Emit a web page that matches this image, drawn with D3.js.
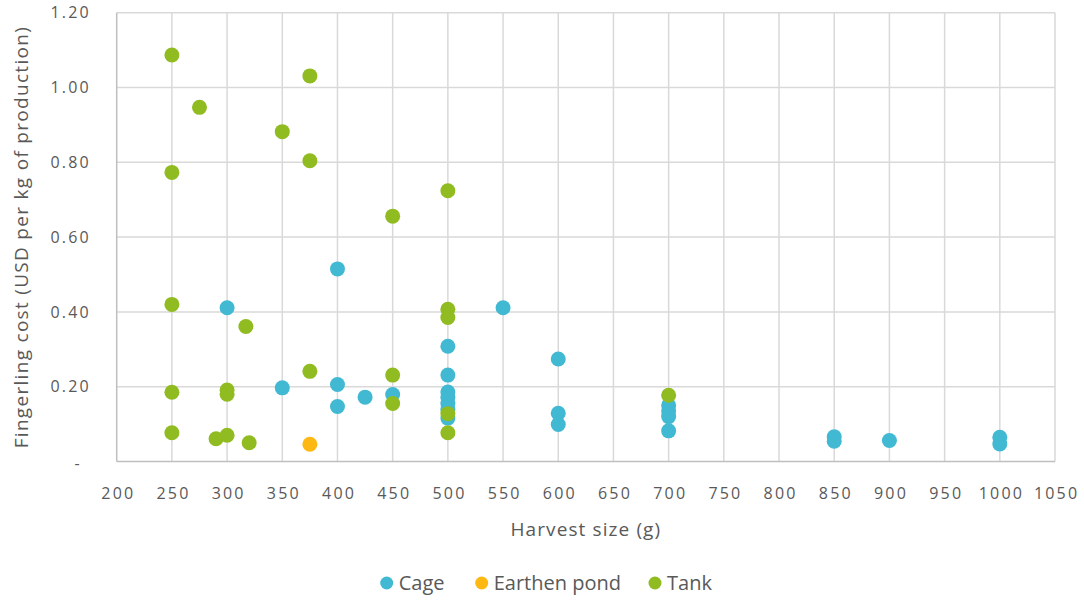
<!DOCTYPE html>
<html>
<head>
<meta charset="utf-8">
<script src="https://cdn.jsdelivr.net/npm/d3@7"></script>
<style>
  body { margin: 0; background: #fff; }
  svg { display: block; }
  text { font-family: "Open Sans", "Lato", sans-serif; fill: #595959; }
</style>
</head>
<body>
<svg id="chart" width="1084" height="603"></svg>
<script>
// ---- data ----
const seriesNames = ["Cage", "Earthen pond", "Tank"];
const seriesColors = ["#41B9D3", "#FDB813", "#90BC21"];

const cageX = [300, 350, 400, 400, 400, 425, 450, 500, 500, 500, 500, 500, 500, 500, 550, 600, 600, 600, 700, 700, 700, 700, 850, 850, 900, 1000, 1000];
const cageY = [0.411, 0.197, 0.515, 0.206, 0.147, 0.172, 0.179, 0.308, 0.231, 0.186, 0.172, 0.155, 0.140, 0.116, 0.411, 0.274, 0.129, 0.099, 0.150, 0.135, 0.120, 0.082, 0.066, 0.054, 0.056, 0.065, 0.047];

const pondX = [375];
const pondY = [0.046];

const tankX = [250, 250, 250, 250, 250, 275, 290, 300, 300, 300, 317, 320, 350, 375, 375, 375, 450, 450, 450, 500, 500, 500, 500, 500, 700];
const tankY = [1.087, 0.773, 0.420, 0.185, 0.077, 0.947, 0.061, 0.191, 0.180, 0.070, 0.361, 0.050, 0.882, 1.031, 0.804, 0.241, 0.656, 0.231, 0.155, 0.724, 0.407, 0.385, 0.128, 0.077, 0.177];

const xTicks = [200, 250, 300, 350, 400, 450, 500, 550, 600, 650, 700, 750, 800, 850, 900, 950, 1000, 1050];
const yTicks = [0, 0.2, 0.4, 0.6, 0.8, 1.0, 1.2];
const yTickLabels = ["-", "0.20", "0.40", "0.60", "0.80", "1.00", "1.20"];

const xTitle = "Harvest size (g)";
const yTitle = "Fingerling cost (USD per kg of production)";

// ---- layout ----
(function () {
const svg = d3.select("#chart");
const pLeft = 116.7, pRight = 1055, pTop = 12.7, pBottom = 461.5;

const x = d3.scaleLinear().domain([200, 1050]).range([pLeft, pRight]);
const y = d3.scaleLinear().domain([0, 1.2]).range([pBottom, pTop]);

// gridlines
const grid = svg.append("g");
grid.selectAll("line.v").data(xTicks.slice(1)).enter().append("line")
  .attr("x1", d => x(d)).attr("x2", d => x(d))
  .attr("y1", y(1.2)).attr("y2", y(0))
  .attr("stroke", "#d9d9d9").attr("stroke-width", 1.5);
grid.selectAll("line.h").data(yTicks.slice(1)).enter().append("line")
  .attr("x1", x(200)).attr("x2", x(1050))
  .attr("y1", d => y(d)).attr("y2", d => y(d))
  .attr("stroke", "#d9d9d9").attr("stroke-width", 1.5);

// axes lines
svg.append("line").attr("x1", x(200)).attr("x2", x(200)).attr("y1", y(1.2)).attr("y2", y(0))
  .attr("stroke", "#bfbfbf").attr("stroke-width", 1.5);
svg.append("line").attr("x1", x(200)).attr("x2", x(1050)).attr("y1", y(0)).attr("y2", y(0))
  .attr("stroke", "#bfbfbf").attr("stroke-width", 1.5);

// x tick labels via d3 axis
const tickSpacing = 2.2;
const xAxis = d3.axisBottom(x).tickValues(xTicks).tickSize(0).tickPadding(0).tickFormat(d3.format("d"));
const xg = svg.append("g").attr("transform", `translate(0,${pBottom + 26})`).call(xAxis);
xg.select(".domain").remove();
xg.selectAll("text").attr("font-size", 16).attr("fill", "#595959")
  .attr("dx", tickSpacing / 2)
  .style("letter-spacing", tickSpacing + "px")
  .style("font-family", '"Open Sans", sans-serif');

// y tick labels via d3 axis
const yAxis = d3.axisLeft(y).tickValues(yTicks).tickSize(0).tickPadding(0)
  .tickFormat((d, i) => yTickLabels[i]);
const yg = svg.append("g").attr("transform", `translate(${pLeft - 28 + tickSpacing},0)`).call(yAxis);
yg.select(".domain").remove();
yg.selectAll("text").attr("font-size", 16).attr("fill", "#595959")
  .style("letter-spacing", tickSpacing + "px")
  .style("font-family", '"Open Sans", sans-serif');
yg.selectAll(".tick").filter(d => d === 0).select("text").attr("dx", -9).attr("dy", "0.45em");

// axis titles
svg.append("text").attr("x", (pLeft + pRight) / 2).attr("y", 536)
  .attr("text-anchor", "middle").attr("font-size", 19)
  .style("letter-spacing", "1.1px").text(xTitle);
svg.append("text").attr("transform", `translate(28,${(pTop + pBottom) / 2}) rotate(-90)`)
  .attr("text-anchor", "middle").attr("font-size", 19)
  .style("letter-spacing", "1.3px").text(yTitle);

// points
const series = [
  { name: seriesNames[0], color: seriesColors[0], xs: cageX, ys: cageY },
  { name: seriesNames[1], color: seriesColors[1], xs: pondX, ys: pondY },
  { name: seriesNames[2], color: seriesColors[2], xs: tankX, ys: tankY }
];
series.forEach(s => {
  svg.append("g").selectAll("circle").data(s.xs.map((v, i) => [v, s.ys[i]])).enter()
    .append("circle")
    .attr("cx", d => x(d[0])).attr("cy", d => y(d[1])).attr("r", 7.5)
    .attr("fill", s.color);
});

// legend
const legendX = [386.7, 481.7, 655];
const lg = svg.append("g");
series.forEach((s, i) => {
  lg.append("circle").attr("cx", legendX[i]).attr("cy", 583).attr("r", 6.5).attr("fill", s.color);
  lg.append("text").attr("x", legendX[i] + 12).attr("y", 590).attr("font-size", 20).text(s.name);
});
})();
</script>
</body>
</html>
